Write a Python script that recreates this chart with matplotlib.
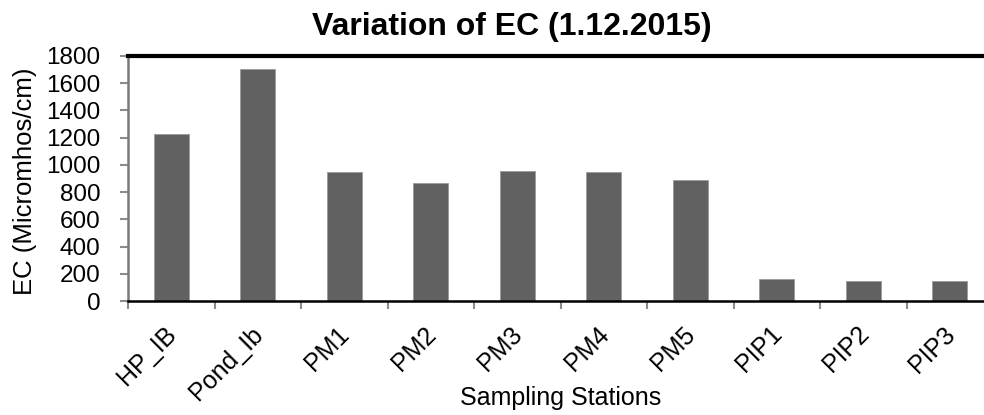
import numpy as np
import matplotlib.pyplot as plt
from matplotlib.transforms import ScaledTranslation

stations = ['HP_IB', 'Pond_Ib', 'PM1', 'PM2', 'PM3', 'PM4', 'PM5', 'PIP1', 'PIP2', 'PIP3']
ec_values = [1225, 1703, 946, 865, 955, 950, 890, 160, 150, 147]
y_ticks = [0, 200, 400, 600, 800, 1000, 1200, 1400, 1600, 1800]

plt.rcParams['font.family'] = ['Liberation Sans', 'DejaVu Sans']

fig = plt.figure(figsize=(9.84, 4.15), dpi=100)
# axes runs slightly past the right edge, as in the original
ax = fig.add_axes([128 / 984, 1 - 301 / 415, 865 / 984, 245 / 415])

x = np.arange(len(stations))
ax.bar(x, ec_values, width=0.4, color='#616161', edgecolor='#9a9a9a', linewidth=0.6, zorder=2)

ax.set_xlim(-0.5, len(stations) - 0.5)
ax.set_ylim(0, 1800)
ax.set_yticks(y_ticks)
ax.set_yticklabels([str(v) for v in y_ticks], fontsize=17.5)

# ticks between categories, labels at centres
ax.set_xticks(np.arange(len(stations) + 1) - 0.5)
ax.set_xticklabels([])
ax.set_xticks(x, minor=True)
ax.set_xticklabels(stations, minor=True, rotation=45, ha='right', va='top',
                   rotation_mode='anchor', fontsize=18)
ax.tick_params(axis='x', which='minor', length=0, pad=15)
ax.tick_params(axis='x', which='major', length=6, width=1.5, color='#8c8c8c')
ax.tick_params(axis='y', length=6, width=1.5, color='#8c8c8c', pad=14)
shift = ScaledTranslation(-7 / 100, 0, fig.dpi_scale_trans)
for lbl in ax.get_xticklabels(minor=True):
    lbl.set_transform(lbl.get_transform() + shift)

ax.spines['top'].set_linewidth(3)
ax.spines['top'].set_color('black')
ax.spines['bottom'].set_linewidth(1.8)
ax.spines['bottom'].set_color('black')
ax.spines['left'].set_linewidth(1.8)
ax.spines['left'].set_color('#7a7a7a')
ax.spines['right'].set_visible(False)

ax.set_ylabel('EC (Micromhos/cm)', fontsize=18.5, va='center')
ax.yaxis.set_label_coords(-0.119, 0.49)
ax.set_xlabel('Sampling Stations', fontsize=18, va='center')
ax.xaxis.set_label_coords(0.5, -0.396)
fig.text(512 / 984, 1 - 27 / 415, 'Variation of EC (1.12.2015)', ha='center', va='center',
         fontsize=23, fontweight='bold')

fig.savefig('out.png', dpi=100)
